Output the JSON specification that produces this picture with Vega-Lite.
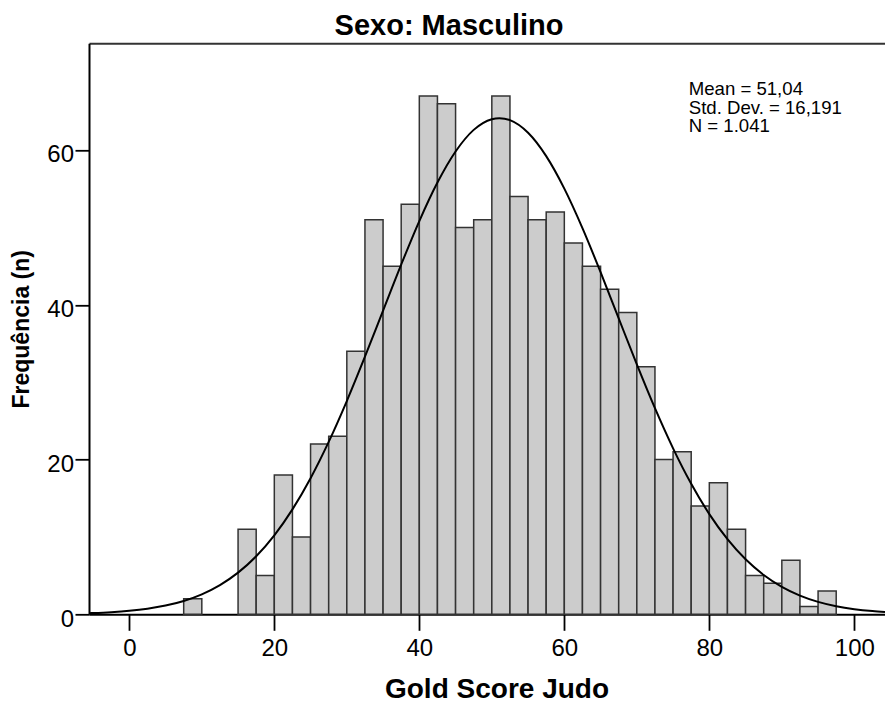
{
  "$schema": "https://vega.github.io/schema/vega-lite/v6.json",
  "width": 796,
  "height": 571,
  "autosize": {"type": "none"},
  "padding": {"left": 89, "top": 43.3, "right": 0, "bottom": 87.7},
  "background": "white",
  "config": {"view": {"stroke": null}, "font": "Liberation Sans"},
  "title": {"text": "Sexo: Masculino", "fontSize": 29, "font": "Liberation Sans", "fontWeight": "bold", "color": "black", "anchor": "middle", "offset": 2, "dx": -38},
  "datasets": {
    "bins": [
      {"bin_start": 7.5, "bin_end": 10, "count": 2},
      {"bin_start": 15, "bin_end": 17.5, "count": 11},
      {"bin_start": 17.5, "bin_end": 20, "count": 5},
      {"bin_start": 20, "bin_end": 22.5, "count": 18},
      {"bin_start": 22.5, "bin_end": 25, "count": 10},
      {"bin_start": 25, "bin_end": 27.5, "count": 22},
      {"bin_start": 27.5, "bin_end": 30, "count": 23},
      {"bin_start": 30, "bin_end": 32.5, "count": 34},
      {"bin_start": 32.5, "bin_end": 35, "count": 51},
      {"bin_start": 35, "bin_end": 37.5, "count": 45},
      {"bin_start": 37.5, "bin_end": 40, "count": 53},
      {"bin_start": 40, "bin_end": 42.5, "count": 67},
      {"bin_start": 42.5, "bin_end": 45, "count": 66},
      {"bin_start": 45, "bin_end": 47.5, "count": 50},
      {"bin_start": 47.5, "bin_end": 50, "count": 51},
      {"bin_start": 50, "bin_end": 52.5, "count": 67},
      {"bin_start": 52.5, "bin_end": 55, "count": 54},
      {"bin_start": 55, "bin_end": 57.5, "count": 51},
      {"bin_start": 57.5, "bin_end": 60, "count": 52},
      {"bin_start": 60, "bin_end": 62.5, "count": 48},
      {"bin_start": 62.5, "bin_end": 65, "count": 45},
      {"bin_start": 65, "bin_end": 67.5, "count": 42},
      {"bin_start": 67.5, "bin_end": 70, "count": 39},
      {"bin_start": 70, "bin_end": 72.5, "count": 32},
      {"bin_start": 72.5, "bin_end": 75, "count": 20},
      {"bin_start": 75, "bin_end": 77.5, "count": 21},
      {"bin_start": 77.5, "bin_end": 80, "count": 14},
      {"bin_start": 80, "bin_end": 82.5, "count": 17},
      {"bin_start": 82.5, "bin_end": 85, "count": 11},
      {"bin_start": 85, "bin_end": 87.5, "count": 5},
      {"bin_start": 87.5, "bin_end": 90, "count": 4},
      {"bin_start": 90, "bin_end": 92.5, "count": 7},
      {"bin_start": 92.5, "bin_end": 95, "count": 1},
      {"bin_start": 95, "bin_end": 97.5, "count": 3}
    ],
    "curve": [
      {"x": -5.56, "y": 0.142},
      {"x": -5, "y": 0.161},
      {"x": -2.5, "y": 0.271},
      {"x": 0, "y": 0.446},
      {"x": 2.5, "y": 0.717},
      {"x": 5, "y": 1.125},
      {"x": 7.5, "y": 1.725},
      {"x": 10, "y": 2.581},
      {"x": 12.5, "y": 3.774},
      {"x": 15, "y": 5.385},
      {"x": 17.5, "y": 7.502},
      {"x": 20, "y": 10.207},
      {"x": 22.5, "y": 13.561},
      {"x": 25, "y": 17.593},
      {"x": 27.5, "y": 22.285},
      {"x": 30, "y": 27.564},
      {"x": 32.5, "y": 33.289},
      {"x": 35, "y": 39.259},
      {"x": 37.5, "y": 45.202},
      {"x": 40, "y": 50.825},
      {"x": 42.5, "y": 55.798},
      {"x": 45, "y": 59.815},
      {"x": 47.5, "y": 62.61},
      {"x": 50, "y": 63.993},
      {"x": 51.04, "y": 64.125},
      {"x": 52.5, "y": 63.865},
      {"x": 55, "y": 62.235},
      {"x": 57.5, "y": 59.219},
      {"x": 60, "y": 55.021},
      {"x": 62.5, "y": 49.917},
      {"x": 65, "y": 44.217},
      {"x": 67.5, "y": 38.247},
      {"x": 70, "y": 32.303},
      {"x": 72.5, "y": 26.641},
      {"x": 75, "y": 21.454},
      {"x": 77.5, "y": 16.869},
      {"x": 80, "y": 12.952},
      {"x": 82.5, "y": 9.71},
      {"x": 85, "y": 7.108},
      {"x": 87.5, "y": 5.081},
      {"x": 90, "y": 3.546},
      {"x": 92.5, "y": 2.417},
      {"x": 95, "y": 1.608},
      {"x": 97.5, "y": 1.045},
      {"x": 100, "y": 0.663},
      {"x": 102.5, "y": 0.411},
      {"x": 104.23, "y": 0.291}
    ]
  },
  "layer": [
    {
      "data": {"name": "bins"},
      "mark": {"type": "bar", "fill": "#cccccc", "stroke": "#333333", "strokeWidth": 1.5},
      "encoding": {
        "x": {
          "field": "bin_start", "type": "quantitative",
          "scale": {"domain": [-5.56, 104.23], "nice": false, "zero": false},
          "axis": {
            "orient": "bottom", "values": [0, 20, 40, 60, 80, 100], "grid": false,
            "domainColor": "black", "domainWidth": 2, "tickColor": "black", "tickWidth": 1.8, "tickSize": 16,
            "labelFontSize": 24, "labelColor": "black", "labelBaseline": "alphabetic", "labelPadding": 24.7, "labelFont": "Liberation Sans",
            "title": "Gold Score Judo", "titleFontSize": 28, "titleFontWeight": "bold", "titleColor": "black", "titleFont": "Liberation Sans",
            "titleX": 407.5, "titleY": 82.7, "titleAlign": "center", "titleBaseline": "alphabetic"
          }
        },
        "x2": {"field": "bin_end"},
        "y": {
          "field": "count", "type": "quantitative",
          "scale": {"domain": [0, 73.8], "nice": false, "zero": true},
          "axis": {
            "orient": "left", "values": [0, 20, 40, 60], "grid": false,
            "domainColor": "black", "domainWidth": 2, "tickColor": "black", "tickWidth": 1.8, "tickSize": 14,
            "labelFontSize": 24, "labelColor": "black", "labelBaseline": "alphabetic", "labelOffset": 11.7, "labelPadding": 1.5, "labelFont": "Liberation Sans",
            "title": "Frequência (n)", "titleFontSize": 23, "titleFontWeight": "bold", "titleColor": "black", "titleFont": "Liberation Sans",
            "titleX": -60.2, "titleY": 285.5, "titleAngle": 270, "titleAlign": "center", "titleBaseline": "alphabetic"
          }
        },
        "y2": {"datum": 0}
      }
    },
    {
      "data": {"name": "curve"},
      "mark": {"type": "line", "color": "black", "strokeWidth": 2, "interpolate": "monotone", "clip": true},
      "encoding": {
        "x": {
          "field": "x", "type": "quantitative",
          "scale": {"domain": [-5.56, 104.23], "nice": false, "zero": false},
          "axis": {"orient": "top", "labels": false, "ticks": false, "grid": false, "title": null, "domainColor": "#333333", "domainWidth": 2}
        },
        "y": {"field": "y", "type": "quantitative", "scale": {"domain": [0, 73.8], "nice": false}}
      }
    },
    {
      "data": {"values": [{}]},
      "mark": {"type": "text", "align": "left", "baseline": "alphabetic", "fontSize": 18.6, "font": "Liberation Sans", "color": "black", "lineHeight": 18.7,
               "text": ["Mean = 51,04", "Std. Dev. = 16,191", "N = 1.041"]},
      "encoding": {
        "x": {"datum": 77.16, "type": "quantitative", "axis": null},
        "y": {"datum": 67.11, "type": "quantitative"}
      }
    }
  ],
  "resolve": {"axis": {"x": "independent"}}
}
